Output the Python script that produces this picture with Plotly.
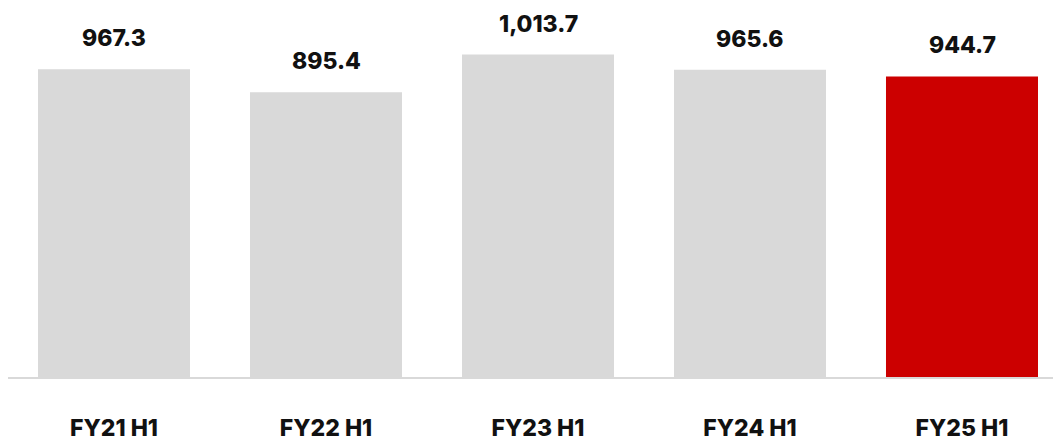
import plotly.graph_objects as go

categories = ["FY21 H1", "FY22 H1", "FY23 H1", "FY24 H1", "FY25 H1"]
values = [967.3, 895.4, 1013.7, 965.6, 944.7]
labels = ["967.3", "895.4", "1,013.7", "965.6", "944.7"]
colors = ["#d9d9d9", "#d9d9d9", "#d9d9d9", "#d9d9d9", "#cc0000"]

FONT = "Inter"

fig = go.Figure()
fig.add_trace(go.Bar(
    x=categories, y=values, marker=dict(color=colors, line=dict(width=0)),
    width=0.717, hoverinfo="skip",
))

for c, v, t in zip(categories, values, labels):
    fig.add_annotation(
        x=c, y=v, text=t, showarrow=False, yanchor="bottom", yshift=15,
        font=dict(family=FONT, size=23, color="#111111", weight=800),
    )

fig.update_layout(
    width=1053, height=434,
    margin=dict(l=0, r=0, t=0, b=53),
    paper_bgcolor="white", plot_bgcolor="white",
    showlegend=False,
    xaxis=dict(
        range=[-0.5, 4.467], showline=True, linecolor="#d9d9d9", linewidth=2,
        showgrid=False, ticks="", ticklabelstandoff=29,
        tickfont=dict(family=FONT, size=23, color="#111111", weight=800),
    ),
    yaxis=dict(range=[0, 1160], visible=False, showgrid=False, zeroline=False),
)

fig.write_html("out.html")
